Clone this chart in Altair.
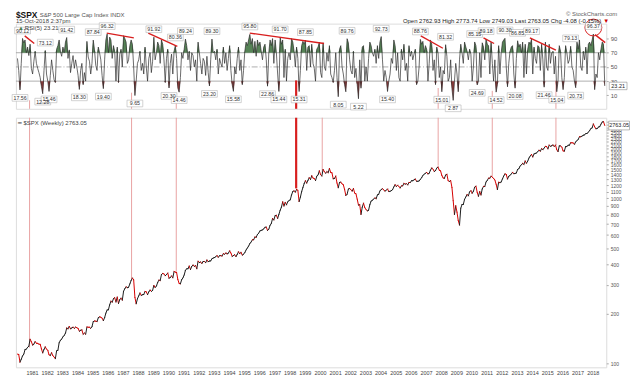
import altair as alt
import pandas as pd
import numpy as np

# ---------------- data (monthly samples) ----------------
START_YEAR = 1980
price_rows = [
    [114.16, 113.66, 102.09, 106.29, 111.24, 114.24, 121.67, 122.38, 125.46, 127.47, 140.52, 135.76],
    [129.55, 131.27, 136.00, 132.81, 132.59, 131.21, 130.92, 122.79, 116.18, 121.89, 126.35, 122.55],
    [120.40, 113.11, 111.96, 116.44, 111.88, 109.61, 107.09, 119.51, 120.42, 133.71, 138.54, 140.64],
    [145.30, 148.06, 152.96, 164.42, 162.39, 168.11, 162.56, 164.40, 166.07, 163.55, 166.40, 164.93],
    [163.41, 157.06, 159.18, 160.05, 150.55, 153.18, 150.66, 166.68, 166.10, 166.09, 163.58, 167.24],
    [179.63, 181.18, 180.66, 179.83, 189.55, 191.85, 190.92, 188.63, 182.08, 189.82, 202.17, 211.28],
    [211.78, 226.92, 238.90, 235.52, 247.35, 250.84, 236.12, 252.93, 231.32, 243.98, 249.22, 242.17],
    [274.08, 284.20, 291.70, 288.36, 290.10, 304.00, 318.66, 329.80, 321.83, 251.79, 230.30, 247.08],
    [257.07, 267.82, 258.89, 261.33, 262.16, 273.50, 272.02, 261.52, 271.91, 278.97, 273.70, 277.72],
    [297.47, 288.86, 294.87, 309.64, 320.52, 317.98, 346.08, 351.45, 349.15, 340.36, 345.99, 353.40],
    [329.08, 331.89, 339.94, 330.80, 361.23, 358.02, 356.15, 322.56, 306.05, 304.00, 322.22, 330.22],
    [343.93, 367.07, 375.22, 375.35, 389.83, 371.16, 387.81, 395.43, 387.86, 392.46, 375.22, 417.09],
    [408.79, 412.70, 403.69, 414.95, 415.35, 408.14, 424.21, 414.03, 417.80, 418.68, 431.35, 435.71],
    [438.78, 443.38, 451.67, 440.19, 450.19, 450.53, 448.13, 463.56, 458.93, 467.83, 461.79, 466.45],
    [481.61, 467.14, 445.77, 450.91, 456.50, 444.27, 458.26, 475.49, 462.69, 472.35, 453.69, 459.27],
    [470.42, 487.39, 500.71, 514.71, 533.40, 544.75, 562.06, 561.88, 584.41, 581.50, 605.37, 615.93],
    [636.02, 640.43, 645.50, 654.17, 669.12, 670.63, 639.95, 651.99, 687.31, 705.27, 757.02, 740.74],
    [786.16, 790.82, 757.12, 801.34, 848.28, 885.14, 954.31, 899.47, 947.28, 914.62, 955.40, 970.43],
    [980.28, 1049.34, 1101.75, 1111.75, 1090.82, 1133.84, 1120.67, 957.28, 1017.01, 1098.67, 1163.63, 1229.23],
    [1279.64, 1238.33, 1286.37, 1335.18, 1301.84, 1372.71, 1328.72, 1320.41, 1282.71, 1362.93, 1388.91, 1469.25],
    [1394.46, 1366.42, 1498.58, 1452.43, 1420.60, 1454.60, 1430.83, 1517.68, 1436.51, 1429.40, 1314.95, 1320.28],
    [1366.01, 1239.94, 1160.33, 1249.46, 1255.82, 1224.38, 1211.23, 1133.58, 1040.94, 1059.78, 1139.45, 1148.08],
    [1130.20, 1106.73, 1147.39, 1076.92, 1067.14, 989.82, 911.62, 916.07, 800.00, 885.76, 936.31, 879.82],
    [855.70, 841.15, 848.18, 916.92, 963.59, 974.50, 990.31, 1008.01, 995.97, 1050.71, 1058.20, 1111.92],
    [1131.13, 1144.94, 1126.21, 1107.30, 1120.68, 1140.84, 1101.72, 1104.24, 1114.58, 1130.20, 1173.82, 1211.92],
    [1181.27, 1203.60, 1180.59, 1156.85, 1191.50, 1191.33, 1234.18, 1220.33, 1228.81, 1207.01, 1249.48, 1248.29],
    [1280.08, 1280.66, 1294.87, 1310.61, 1270.09, 1270.20, 1276.66, 1303.82, 1335.85, 1377.94, 1400.63, 1418.30],
    [1438.24, 1406.82, 1420.86, 1482.37, 1530.62, 1503.35, 1455.27, 1473.99, 1526.75, 1549.38, 1481.14, 1468.36],
    [1378.55, 1330.63, 1322.70, 1385.59, 1400.38, 1280.00, 1267.38, 1282.83, 1166.36, 968.75, 800.00, 903.25],
    [825.88, 735.09, 690.00, 872.81, 919.14, 919.32, 987.48, 1020.62, 1057.08, 1036.19, 1095.63, 1115.10],
    [1073.87, 1104.49, 1169.43, 1186.69, 1089.41, 1030.71, 1101.60, 1049.33, 1141.20, 1183.26, 1180.55, 1257.64],
    [1286.12, 1327.22, 1325.83, 1363.61, 1345.20, 1320.64, 1292.28, 1218.89, 1131.42, 1253.30, 1246.96, 1257.60],
    [1312.41, 1365.68, 1408.47, 1397.91, 1310.33, 1362.16, 1379.32, 1406.58, 1440.67, 1412.16, 1416.18, 1426.19],
    [1498.11, 1514.68, 1569.19, 1597.57, 1630.74, 1606.28, 1685.73, 1632.97, 1681.55, 1756.54, 1805.81, 1848.36],
    [1782.59, 1859.45, 1872.34, 1883.95, 1923.57, 1960.23, 1930.67, 2003.37, 1972.29, 2018.05, 2067.56, 2058.90],
    [1994.99, 2104.50, 2067.89, 2085.51, 2107.39, 2063.11, 2103.84, 1972.18, 1920.03, 2079.36, 2080.41, 2043.94],
    [1940.24, 1932.23, 2059.74, 2065.30, 2096.95, 2098.86, 2173.60, 2170.95, 2168.27, 2126.15, 2198.81, 2238.83],
    [2278.87, 2363.64, 2362.72, 2384.20, 2411.80, 2423.41, 2470.30, 2471.65, 2519.36, 2575.26, 2647.58, 2673.61],
    [2823.81, 2713.83, 2640.87, 2648.05, 2705.27, 2718.37, 2816.29, 2901.52, 2913.98, 2763.05],
]
rsi_rows = [
    [62, 45, 17.56, 55, 90.12, 84, 88, 70, 78, 66, 82, 48],
    [40, 58, 72, 55, 48, 42, 35, 22, 12.28, 45, 73.12, 40],
    [30, 15.46, 38, 60, 45, 32, 28, 75, 80, 88, 72, 65],
    [78, 70, 85, 91.42, 62, 74, 42, 55, 66, 48, 60, 50],
    [38, 18.30, 45, 55, 25, 42, 30, 86, 64, 58, 40, 55],
    [87.84, 74, 52, 45, 78, 70, 60, 38, 19.40, 60, 88, 96.32],
    [70, 92, 88, 62, 80, 72, 30, 78, 28, 68, 75, 50],
    [94, 90, 85, 55, 60, 80, 88, 82, 50, 9.65, 30, 55],
    [60, 72, 45, 55, 40, 78, 50, 30, 62, 70, 42, 58],
    [91.92, 60, 70, 85, 80, 55, 88, 82, 60, 28, 62, 75],
    [20.30, 55, 68, 40, 72, 80.36, 62, 20, 14.46, 35, 70, 62],
    [75, 89.24, 80, 60, 72, 45, 70, 66, 50, 60, 30, 85],
    [70, 55, 40, 62, 58, 38, 65, 42, 23.20, 60, 89.30, 70],
    [72, 60, 75, 40, 62, 55, 50, 78, 55, 70, 45, 62],
    [80, 45, 25, 15.58, 50, 40, 62, 78, 45, 60, 25, 45],
    [72, 85, 80, 88, 95.80, 82, 90, 70, 86, 65, 88, 80],
    [85, 72, 60, 78, 82, 60, 22.86, 70, 88, 80, 90, 55],
    [88, 70, 40, 15.44, 91.70, 82, 88, 35, 75, 30, 62, 70],
    [60, 90, 85, 72, 50, 78, 62, 15.31, 45, 80, 86, 82],
    [87.85, 45, 78, 80, 50, 82, 55, 48, 30, 75, 78, 85],
    [42, 35, 84, 50, 45, 70, 58, 80, 40, 35, 28, 45],
    [70, 35, 8.05, 75, 80, 50, 40, 25, 15, 89.76, 84, 60],
    [45, 40, 72, 35, 48, 25, 5.22, 60, 20, 78, 80, 30],
    [50, 30, 62, 85, 80, 70, 65, 75, 55, 80, 62, 85],
    [92.73, 60, 30, 45, 35, 15.40, 30, 40, 62, 55, 88, 80],
    [45, 70, 35, 30, 75, 60, 82, 45, 55, 30, 80, 65],
    [72, 60, 68, 75, 25, 30, 50, 88.76, 82, 86, 70, 80],
    [75, 30, 55, 88, 82, 45, 60, 25, 78, 70, 35, 50],
    [15.01, 45, 40, 81.32, 65, 30, 35, 60, 20, 2.87, 30, 55],
    [40, 15, 60, 82, 70, 55, 85, 78, 72, 60, 75, 68],
    [30, 50, 85.15, 80, 24.69, 30, 70, 35, 84, 78, 60, 89.18],
    [82, 80, 40, 85, 55, 30, 60, 14.52, 25, 80, 40, 70],
    [85, 88, 90.30, 50, 22, 55, 72, 78, 80, 40, 20.08, 62],
    [86.85, 78, 82, 70, 85, 35, 82, 40, 75, 85, 82, 89.17],
    [40, 78, 62, 55, 80, 78, 45, 82, 60, 21.46, 85, 50],
    [45, 82, 55, 70, 72, 40, 65, 15.04, 30, 80, 72, 35],
    [18, 35, 80, 70, 55, 60, 79.13, 50, 45, 30, 20.73, 85],
    [75, 88, 50, 45, 72, 60, 78, 40, 82, 85, 80, 88],
    [96.37, 18, 40, 35, 70, 60, 75, 85, 82, 23.21],
]

peak_years = [1980.38, 1981.875, 1983.29, 1985.04, 1985.96, 1989.04, 1990.46, 1991.125,
              1992.875, 1995.375, 1997.375, 1999.04, 2001.79, 2004.04, 2006.625, 2008.29,
              2010.21, 2010.96, 2012.21, 2013.04, 2013.96, 2016.54, 2018.04]
peak_vals = [90.12, 73.12, 91.42, 87.84, 96.32, 91.92, 80.36, 89.24, 89.30, 95.80, 91.70,
             87.85, 89.76, 92.73, 88.76, 81.32, 85.15, 89.18, 90.30, 86.85, 89.17, 79.13, 96.37]
trough_years = [1980.21, 1981.71, 1982.125, 1984.125, 1985.71, 1987.79, 1990.04, 1990.71,
                1992.71, 1994.29, 1996.54, 1997.29, 1998.625, 2001.21, 2002.54, 2004.46,
                2008.04, 2008.79, 2010.375, 2011.625, 2012.875, 2014.79, 2015.625, 2016.875]
trough_vals = [17.56, 12.28, 15.46, 18.30, 19.40, 9.65, 20.30, 14.46, 23.20, 15.58, 22.86,
               15.44, 15.31, 8.05, 5.22, 15.40, 15.01, 2.87, 24.69, 14.52, 20.08, 21.46,
               15.04, 20.73]

# red divergence lines drawn over the RSI peaks
div_x = [1980.52, 1985.93, 1988.67, 1995.37, 2006.65, 2010.79, 2013.85, 2018.15]
div_x2 = [1981.15, 1987.72, 1990.59, 2000.27, 2008.11, 2011.49, 2015.57, 2018.82]
div_y = [93.7, 97.7, 97.7, 97.7, 93.7, 91.0, 91.0, 95.5]
div_y2 = [83.0, 91.0, 79.0, 83.0, 76.3, 83.0, 73.7, 84.3]

# vertical red annotation lines
vline_years = [1980.84, 1987.57, 1990.52, 1998.43, 2000.15, 2007.80, 2011.37, 2015.57]
vline_prices = [125, 325, 360, 1150, 1420, 1580, 1356, 2099]
vline_rsi_top = [3, 13.7, 4.3, 31, -9, 20.3, 16.3, 31]
vline_colors = ["#e9a3a3", "#e9a3a3", "#e9a3a3", "#d81e1e", "#e9a3a3", "#e9a3a3", "#e9a3a3", "#e9a3a3"]
vline_widths = [1, 1, 1, 2.2, 1, 1, 1, 1]

rsi_ticks = [10, 30, 50, 70, 90]
price_ticks = [100, 200, 300, 400, 500, 600, 700, 800, 900, 1000, 1100, 1200, 1300, 1400,
               1500, 1600, 1700, 1800, 1900, 2000, 2100, 2200, 2300, 2400, 2500, 2600, 2700,
               2800, 2900]
year_ticks = list(range(1981, 2019))

# ---------------- frames ----------------
price = [v for row in price_rows for v in row]
rsi = [v for row in rsi_rows for v in row]
t = [START_YEAR + (i + 0.5) / 12 for i in range(len(price))]
df = pd.DataFrame({"t": t, "price": price, "rsi": rsi})
seg = df.assign(t0=df["t"].shift(1), p0=df["price"].shift(1)).dropna()
seg["dir"] = np.where(seg["price"] >= seg["p0"], "up", "down")

pk = pd.DataFrame({"t": peak_years, "v": peak_vals})
pk["lab"] = pk["v"].map(lambda v: f"{v:.2f}")
tr = pd.DataFrame({"t": trough_years, "v": trough_vals})
tr["lab"] = tr["v"].map(lambda v: f"{v:.2f}")
dv = pd.DataFrame({"x": div_x, "x2": div_x2, "y": div_y, "y2": div_y2})
vl = pd.DataFrame({"t": vline_years, "p": vline_prices, "rt": vline_rsi_top,
                   "c": vline_colors, "w": vline_widths})
vl["top"] = 3080
vl["bot"] = -9
vl_r = vl[vl["rt"] > -9]

W = 596
HR = 86
HP = 252
FONT = "Liberation Sans"

XS = alt.Scale(domain=[1979.94, 2018.89], nice=False, zero=False)
RS = alt.Scale(domain=[-9, 111], nice=False, zero=False)
PS = alt.Scale(type="log", domain=[95, 3080], nice=False)

RAXIS = alt.Axis(orient="right", values=rsi_ticks, labelFontSize=6, labelColor="#555",
                 tickSize=2, tickColor="#aaa", domain=False, grid=False, title=None,
                 labelPadding=2)
PAXIS = alt.Axis(orient="right", values=price_ticks, format="d", labelFontSize=5,
                 labelColor="#555", tickSize=2, tickColor="#aaa", domain=False,
                 grid=False, labelOverlap=False, title=None, labelPadding=2)
XAXIS = alt.Axis(values=year_ticks, format="d", labelFontSize=5.5, labelColor="#444",
                 ticks=False, domain=False, grid=False, labelOverlap=False, title=None,
                 labelPadding=3, labelFlush=False)

BOX = "M-1.3,-0.55L1.3,-0.55L1.3,0.55L-1.3,0.55Z"


def xr(field="t"):
    return alt.X(f"{field}:Q", scale=XS, axis=None)


def yr(field):
    return alt.Y(f"{field}:Q", scale=RS, axis=RAXIS)


def label_text(s, x, y, size=6, color="#333", weight="normal", align="left"):
    return alt.Chart(pd.DataFrame({"s": [s]})).mark_text(
        fontSize=size, color=color, fontWeight=weight, align=align, baseline="middle",
        font=FONT
    ).encode(x=alt.value(x), y=alt.value(y), text="s:N")


# ---------------- RSI panel ----------------
lv = alt.Chart(pd.DataFrame({"lev": [70, 30]})).mark_rule(color="#9a9a9a", strokeWidth=0.8).encode(y=yr("lev"))
mid = alt.Chart(pd.DataFrame({"lev": [50]})).mark_rule(color="#9a9a9a", strokeWidth=0.8,
                                                       strokeDash=[6, 2, 1, 2]).encode(y=yr("lev"))
green = alt.Chart(df).transform_calculate(hi="max(datum.rsi, 70)").mark_area(
    color="#4d7c4d", opacity=0.95).encode(x=xr(), y=yr("hi"), y2=alt.datum(70))
red = alt.Chart(df).transform_calculate(lo="min(datum.rsi, 30)").mark_area(
    color="#8a2f2f", opacity=0.95).encode(x=xr(), y=yr("lo"), y2=alt.datum(30))
rline = alt.Chart(df).mark_line(color="#2b2b2b", strokeWidth=0.7).encode(x=xr(), y=yr("rsi"))
rv = alt.Chart(vl_r).mark_rule().encode(
    x=xr(), y=yr("rt"), y2="bot:Q",
    color=alt.Color("c:N", scale=None), strokeWidth=alt.StrokeWidth("w:Q", scale=None))
divs = alt.Chart(dv).mark_rule(color="#d81e1e", strokeWidth=1.4).encode(
    x=xr("x"), x2="x2:Q", y=yr("y"), y2="y2:Q")
circ = alt.Chart(pd.DataFrame({"t": [2018.04], "v": [105.5]})).mark_point(
    shape="circle", size=290, filled=False, color="#d81e1e", strokeWidth=1, opacity=1
).encode(x=xr(), y=yr("v"))


def labels(frame, off):
    box = alt.Chart(frame).mark_point(
        shape=BOX, size=150, filled=True, fill="white", stroke="#b5b5b5",
        strokeWidth=0.6, opacity=1, yOffset=off
    ).encode(x=xr(), y=yr("v"))
    txt = alt.Chart(frame).mark_text(fontSize=5.3, color="#333", dy=off, font=FONT).encode(
        x=xr(), y=yr("v"), text="lab:N")
    return box + txt


cur_df = pd.DataFrame({"v": [23.21], "lab": ["23.21"]})
cur_box = alt.Chart(cur_df).mark_point(shape=BOX, size=190, filled=True, fill="white",
                                        stroke="#888", strokeWidth=0.6, opacity=1).encode(
    x=alt.value(W + 12), y=yr("v"))
cur_txt = alt.Chart(cur_df).mark_text(fontSize=5.5, color="#222", font=FONT).encode(
    x=alt.value(W + 12), y=yr("v"), text="lab:N")

rsi_chart = alt.layer(
    lv, mid, rv, green, red, rline, divs, circ, labels(pk, -8), labels(tr, 8),
    cur_box, cur_txt,
    label_text("▲", 2, 4, size=6, color="#4d7c4d"),
    label_text("RSI(5) 23.21", 9, 4, size=6, color="#444"),
    label_text("$SPX", 0, -9, size=8.5, color="#111", weight="bold"),
    label_text("S&P 500 Large Cap Index  INDX", 24, -9, size=6, color="#555"),
    label_text("15-Oct-2018 2:37pm", 0, -2.5, size=6, color="#444"),
    label_text("© StockCharts.com", 607, -10, size=6, color="#666", align="right"),
    label_text("Open 2762.93  High 2773.74  Low 2749.03  Last 2763.05  Chg -4.08 (-0.15%)",
               591, -2.5, size=6, color="#222", align="right"),
    label_text("▼", 596, -2.5, size=6, color="#cc0000", align="center"),
).properties(width=W, height=HR)

# ---------------- price panel ----------------
pv = alt.Chart(vl).mark_rule().encode(
    x=alt.X("t:Q", scale=XS, axis=XAXIS),
    y=alt.Y("top:Q", scale=PS, axis=PAXIS), y2="p:Q",
    color=alt.Color("c:N", scale=None), strokeWidth=alt.StrokeWidth("w:Q", scale=None))
pline = alt.Chart(seg).mark_rule(strokeWidth=1, strokeCap="round").encode(
    x=alt.X("t0:Q", scale=XS, axis=XAXIS), x2="t:Q",
    y=alt.Y("p0:Q", scale=PS, axis=PAXIS), y2="price:Q",
    color=alt.Color("dir:N", scale=alt.Scale(domain=["up", "down"], range=["#1c1c1c", "#d40000"]),
                    legend=None))
last_df = pd.DataFrame({"v": [2763.05], "lab": ["2763.05"]})
last_box = alt.Chart(last_df).mark_point(shape=BOX, size=260, filled=True, fill="white",
                                          stroke="#888", strokeWidth=0.6, opacity=1).encode(
    x=alt.value(W + 13), y=alt.Y("v:Q", scale=PS, axis=PAXIS))
last_txt = alt.Chart(last_df).mark_text(fontSize=5.5, color="#222", font=FONT).encode(
    x=alt.value(W + 13), y=alt.Y("v:Q", scale=PS, axis=PAXIS), text="lab:N")

price_chart = alt.layer(
    pv, pline, last_box, last_txt,
    label_text("━ $SPX (Weekly) 2763.05", 2, 5, size=6, color="#444"),
).properties(width=W, height=HP)

chart = alt.vconcat(rsi_chart, price_chart, spacing=2).properties(
    padding={"left": 2, "right": 0, "top": 0, "bottom": 0}
).configure_view(stroke="#c4c4c4", strokeWidth=1).configure(font=FONT)

chart.save("out.html", embed_options={"renderer": "svg", "actions": False})
